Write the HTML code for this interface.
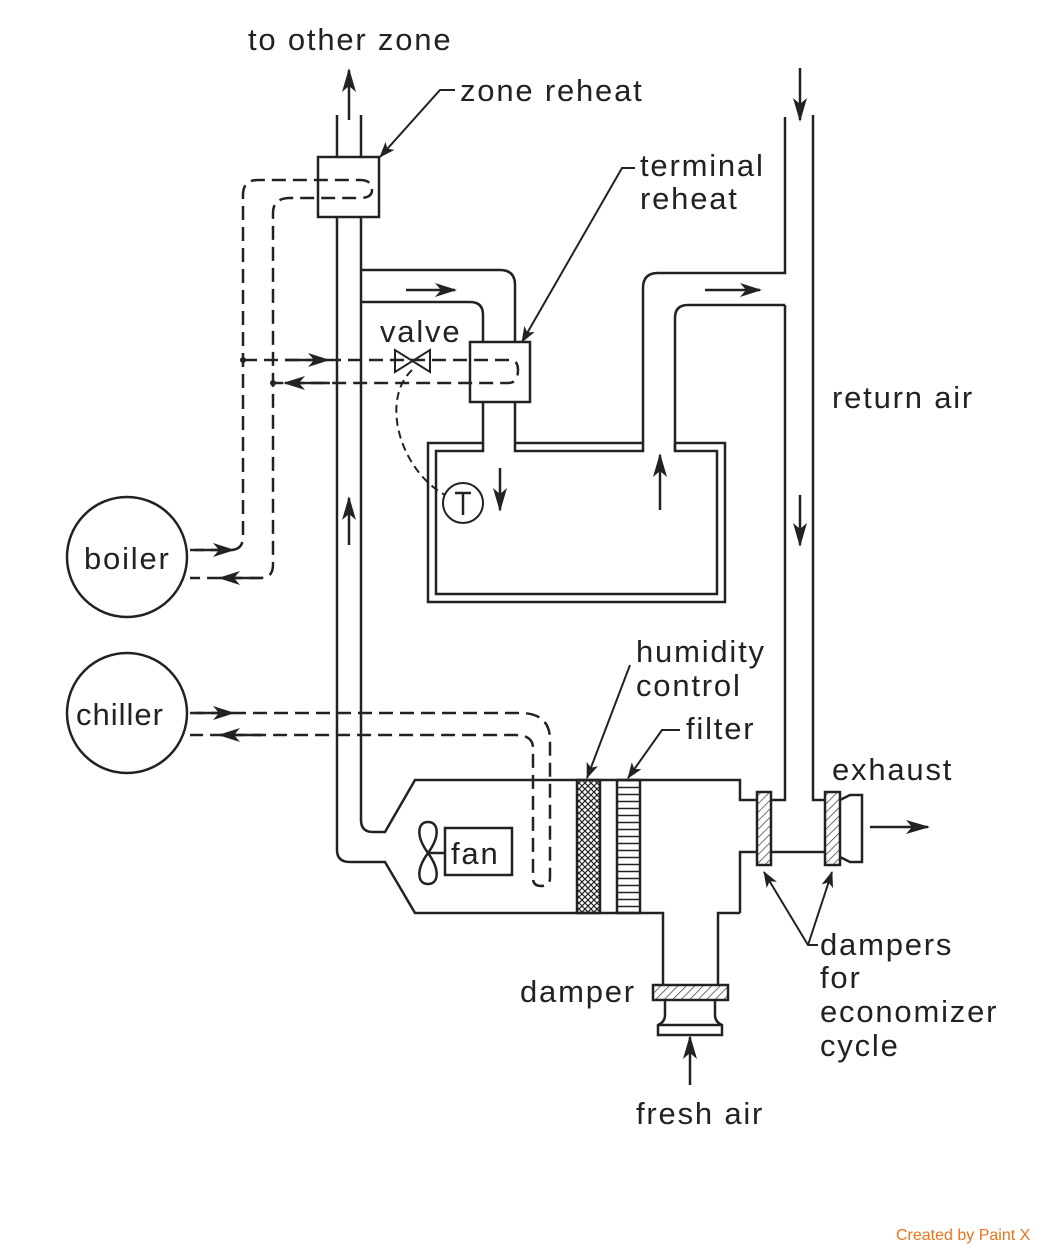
<!DOCTYPE html>
<html><head><style>body{margin:0;background:#fff}svg{display:block}text{font-family:"Liberation Sans",sans-serif;font-size:31px;letter-spacing:1.8px;fill:#222}</style></head><body>
<svg width="1051" height="1249" viewBox="0 0 1051 1249" xmlns="http://www.w3.org/2000/svg">
<defs>
<marker id="a" markerWidth="24" markerHeight="14" refX="22" refY="7" orient="auto" markerUnits="userSpaceOnUse" viewBox="0 0 24 14"><path d="M0,0 L24,7 L0,14 L6,7Z" fill="#222"/></marker>
<marker id="c" markerWidth="16" markerHeight="12" refX="15" refY="6" orient="auto" markerUnits="userSpaceOnUse" viewBox="0 0 16 12"><path d="M0,0 L16,6 L0,12 L4,6Z" fill="#222"/></marker>
<marker id="b" markerWidth="22" markerHeight="14" refX="20" refY="7" orient="auto" markerUnits="userSpaceOnUse" viewBox="0 0 22 14"><path d="M0,0 L22,7 L0,14 L6,7Z" fill="#222"/></marker>
<pattern id="x" width="6" height="6" patternUnits="userSpaceOnUse"><path d="M0,0L6,6M6,0L0,6" stroke="#222" stroke-width="1.2"/></pattern>
<pattern id="h" width="6" height="7" patternUnits="userSpaceOnUse"><path d="M0,3.5H6" stroke="#222" stroke-width="1.5"/></pattern>
<pattern id="d" width="6" height="6" patternUnits="userSpaceOnUse" patternTransform="rotate(45)"><path d="M0,0V6" stroke="#444" stroke-width="1.5"/></pattern>
</defs>
<g fill="none" stroke="#222" stroke-width="2.5">
<path d="M337,115V157M361,115V157"/>
<rect x="318" y="157" width="61" height="60"/>
<path d="M337,217V850Q337,862 350,862H385L415,913H663V985"/>
<path d="M361,217V820Q361,832 373,832H385L415,780H740V800H757"/>
<path d="M740,913H718V985"/>
<path d="M740,913V852H757"/>
<rect x="757" y="792" width="14" height="73" fill="url(#d)"/>
<path d="M771,800H785V305"/>
<path d="M771,852H825"/>
<path d="M813,115V800H825"/>
<rect x="825" y="792" width="15" height="73" fill="url(#d)"/>
<path d="M840,800L850,795H862V862H850L840,857"/>
<rect x="577" y="780" width="23" height="133" fill="url(#x)"/>
<rect x="617" y="780" width="23" height="133" fill="url(#h)"/>
<rect x="653" y="985" width="75" height="15" fill="url(#d)"/>
<path d="M665,1000V1015Q665,1022 658,1025V1035H722V1025Q715,1022 715,1015V1000"/>
<path d="M658,1025H722"/>
<rect x="445" y="828" width="67" height="47"/>
<path d="M428,853H445"/>
<path d="M428,853C415,835 418,822 428,822C438,822 441,835 428,853C415,871 418,884 428,884C438,884 441,871 428,853"/>
<path d="M361,270H500Q515,270 515,285V342"/>
<path d="M361,302H470Q483,302 483,315V342"/>
<rect x="470" y="342" width="60" height="60"/>
<path d="M483,402V443H428V602H725V443H675"/>
<path d="M483,443V451H436V594H717V451H675V443"/>
<path d="M515,402V443H643V451H515V443"/>
<path d="M643,443V288Q643,273 658,273H785V117"/>
<path d="M675,451V318Q675,305 688,305H785"/>
<circle cx="127" cy="557" r="60"/>
<circle cx="127" cy="713" r="60"/>
<circle cx="463" cy="503" r="20" stroke-width="2"/>
<path d="M463,493V515M455,493H471" stroke-width="2.5"/>
<path d="M395,350V372L430,350V372Z" stroke-width="2"/>
</g>
<g fill="none" stroke="#222" stroke-width="2.5" stroke-dasharray="14,7">
<path d="M190,550H230Q243,550 243,537V195Q243,180 258,180H360Q372,180 372,190Q372,198 360,198H290Q273,198 273,213V565Q273,578 260,578H190"/>
<path d="M243,360H510Q518,360 518,370Q518,383 508,383H273"/>
<path d="M190,713H520Q550,713 550,740V878Q550,886 541,886Q533,886 533,878V748Q533,735 515,735H190"/>
</g>
<path d="M412,370C380,400 400,470 445,495" fill="none" stroke="#222" stroke-width="2" stroke-dasharray="8,5"/>
<circle cx="243" cy="360" r="3" fill="#222"/><circle cx="273" cy="383" r="3" fill="#222"/>
<g stroke="#222" stroke-width="2.5" fill="none">
<path d="M349,120V70" marker-end="url(#a)"/>
<path d="M800,68V120" marker-end="url(#a)"/>
<path d="M800,495V545" marker-end="url(#a)"/>
<path d="M349,545V498" marker-end="url(#a)"/>
<path d="M500,468V510" marker-end="url(#a)"/>
<path d="M660,510V455" marker-end="url(#a)"/>
<path d="M690,1085V1037" marker-end="url(#a)"/>
<path d="M870,827H928" marker-end="url(#a)"/>
<path d="M406,290H455" marker-end="url(#b)"/>
<path d="M705,290H760" marker-end="url(#b)"/>
<path d="M285,360H328" marker-end="url(#b)"/>
<path d="M330,383H285" marker-end="url(#b)"/>
<path d="M195,550H233" marker-end="url(#b)"/>
<path d="M260,578H220" marker-end="url(#b)"/>
<path d="M195,713H233" marker-end="url(#b)"/>
<path d="M262,735H220" marker-end="url(#b)"/>
<path d="M455,90H440L380,157" stroke-width="2" marker-end="url(#c)"/>
<path d="M635,168H622L522,342" stroke-width="2" marker-end="url(#c)"/>
<path d="M630,665L587,778" stroke-width="2" marker-end="url(#c)"/>
<path d="M680,730H662L628,778" stroke-width="2" marker-end="url(#c)"/>
<path d="M818,945H808L764,872" stroke-width="2" marker-end="url(#c)"/>
<path d="M808,945L832,872" stroke-width="2" marker-end="url(#c)"/>
</g>
<text x="248" y="50">to other zone</text>
<text x="460" y="101">zone reheat</text>
<text x="640" y="176">terminal</text>
<text x="640" y="209">reheat</text>
<text x="380" y="342">valve</text>
<text x="832" y="408">return air</text>
<text x="84" y="569">boiler</text>
<text x="76" y="725" style="letter-spacing:1px">chiller</text>
<text x="636" y="662">humidity</text>
<text x="636" y="696">control</text>
<text x="686" y="739">filter</text>
<text x="832" y="780">exhaust</text>
<text x="451" y="864">fan</text>
<text x="820" y="955">dampers</text>
<text x="820" y="988">for</text>
<text x="820" y="1022">economizer</text>
<text x="820" y="1056">cycle</text>
<text x="520" y="1002">damper</text>
<text x="636" y="1124">fresh air</text>
<text x="896" y="1240" style="font-size:16px;letter-spacing:0;fill:#e8731a">Created by Paint X</text>
</svg>
</body></html>
